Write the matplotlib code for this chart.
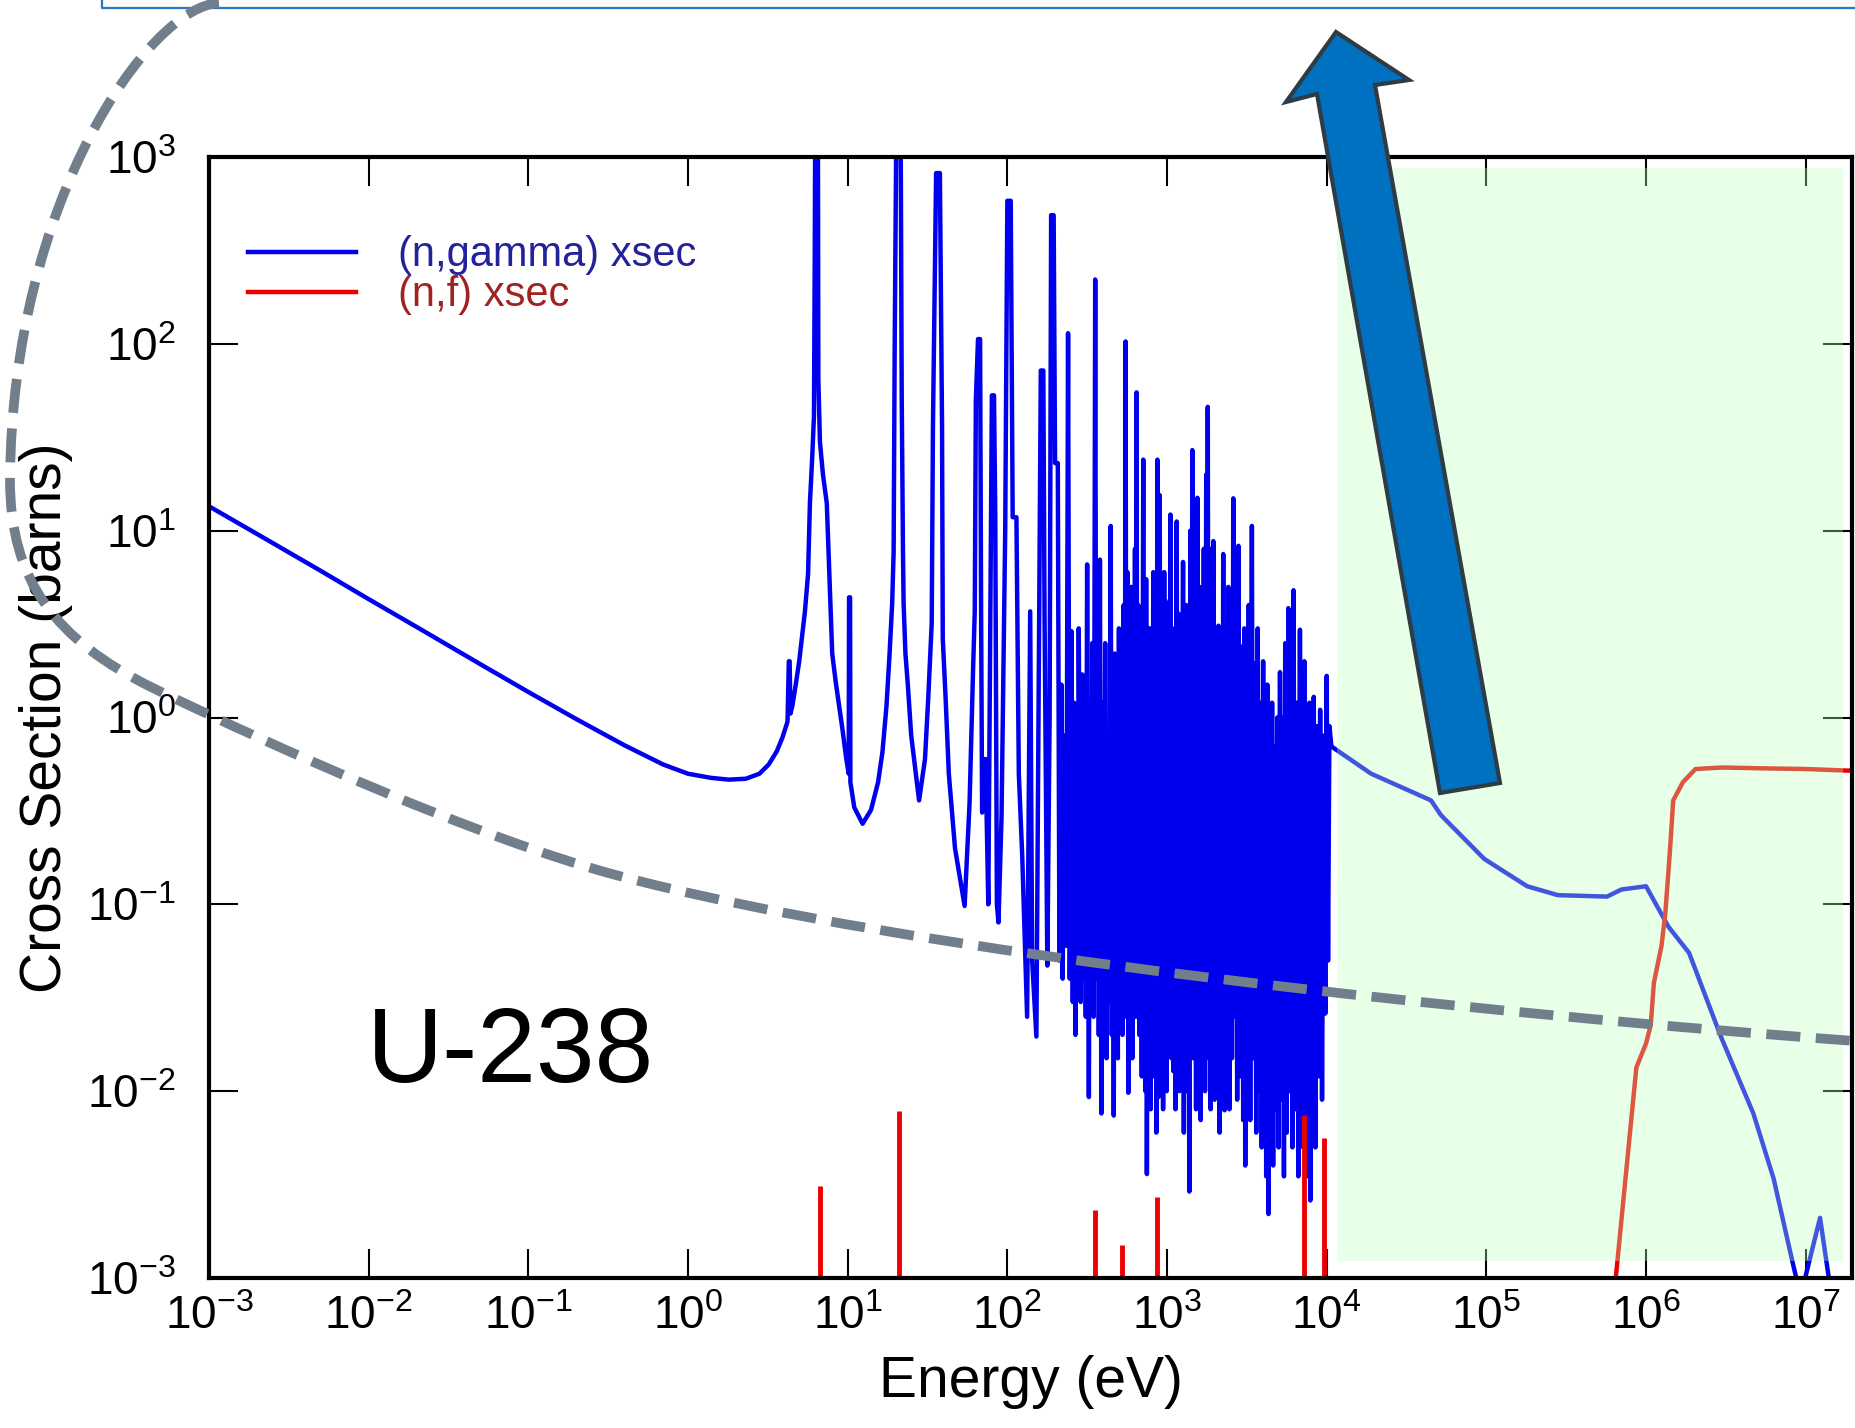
import numpy as np
import matplotlib
matplotlib.use('Agg')
import matplotlib.pyplot as plt
from matplotlib.patches import Polygon, PathPatch, Rectangle
from matplotlib.path import Path
from matplotlib.lines import Line2D

plt.rcParams['font.family'] = ['Liberation Sans', 'DejaVu Sans']
plt.rcParams['mathtext.default'] = 'regular'
plt.rcParams['axes.unicode_minus'] = False

W, H = 1855, 1428

# (n,gamma): thermal part and first resolved resonances, eV / barns
e_low = [1e-3, 2e-3, 5e-3, 1e-2, 2e-2, 5e-2, 0.1, 0.2, 0.4, 0.7, 1.0, 1.4, 1.8, 2.3, 2.8,
         3.2, 3.6, 3.9, 4.2, 4.28, 4.33, 4.38, 4.5, 4.73, 4.97, 5.2, 5.4, 5.65, 5.8, 6.0,
         6.15, 6.22, 6.28, 6.5, 6.55, 6.7, 7.0, 7.4, 7.7, 8.0, 8.4, 8.85, 9.3, 9.8, 10.15,
         10.2, 10.35, 10.4, 11.0, 12.4, 14.0, 15.5, 16.5, 17.5, 18.3, 19.0, 19.4, 19.7, 20.3,
         21.4, 21.8, 22.2, 22.4, 23.0, 23.8, 25.0, 28.0, 30.5, 32.0, 33.6, 34.2, 35.8, 37.8,
         39.0, 39.4, 41.0, 43.0, 47.0, 54.0, 58.0, 61.0, 62.5, 63.5, 65.5, 67.5, 68.5, 69.5,
         73.0, 76.0, 79.0, 80.0, 82.5, 84.0, 86.0, 88.0, 92.0, 97.0, 100.0, 105.0, 108.0,
         114.0, 118.0, 124.0, 133.0, 139.0, 143.0, 152.0, 158.0, 162.0, 168.0, 171.0, 178.0,
         184.0, 188.0, 195.0, 199.0, 207.0, 212.0]
xs_low = [13.5, 9.6, 6.1, 4.3, 3.05, 1.93, 1.37, 0.98, 0.71, 0.56, 0.50, 0.475, 0.465, 0.47, 0.50,
          0.56, 0.66, 0.78, 0.95, 2.0, 2.0, 1.05, 1.15, 1.5, 2.0, 2.8, 3.7, 5.9, 14, 25,
          41, 300, 3000, 3000, 65, 30, 20, 14, 5.5, 2.2, 1.57, 1.15, 0.85, 0.6, 0.5,
          4.4, 4.4, 0.45, 0.33, 0.27, 0.32, 0.45, 0.65, 1.15, 2.2, 4.1, 7.7, 99, 3000,
          3000, 52, 7.7, 4.1, 2.2, 1.5, 0.8, 0.36, 0.6, 1.3, 3.2, 36, 820, 820,
          36, 2.65, 1.3, 0.5, 0.2, 0.098, 0.35, 1.8, 3.7, 50, 106, 106, 3.7, 0.31,
          0.6, 0.1, 12, 53, 53, 12.3, 0.1, 0.08, 0.3, 10.3, 583, 583, 11.8,
          11.8, 0.5, 0.18, 0.025, 3.7, 0.05, 0.0196, 2.7, 72, 72, 3.5, 0.047,
          1.0, 488, 488, 23, 23, 0.05]

# dense resonance region: peak tops and valley bottoms
peak_e = [218, 228, 240, 252, 262, 272, 280, 295, 305, 316, 330, 340, 355, 368, 380, 395, 410,
          425, 444, 458, 470, 485, 500, 518, 535, 550, 565, 580, 598, 615, 630, 645, 660, 680,
          710, 725, 740, 760, 780, 800, 820, 845, 870, 900, 930, 960, 980, 1010, 1050, 1080,
          1110, 1150, 1180, 1210, 1260, 1290, 1320, 1350, 1400, 1440, 1490, 1550, 1600, 1650,
          1700, 1760, 1800, 1850, 1900, 1950, 2020, 2100, 2170, 2250, 2330, 2420, 2500, 2600,
          2700, 2800, 2950, 3050, 3150, 3250, 3400, 3550, 3700, 3850, 4000, 4120, 4250, 4400,
          4550, 4700, 4900, 5100, 5300, 5500, 5750, 6000, 6200, 6500, 6800, 7000, 7250, 7500,
          7800, 8000, 8300, 8700, 9100, 9600, 10000, 10400]
peak_xs = [1.5, 0.8, 114, 2.9, 1.2, 0.6, 3.0, 1.7, 0.8, 6.6, 1.0, 2.5, 221, 3.0, 7.0, 1.2, 2.5,
           0.8, 10.6, 1.5, 2.2, 0.9, 3.0, 1.5, 4.0, 103, 6.0, 2.0, 5.0, 1.5, 8.0, 55, 4.0, 2.5,
           24, 3.0, 5.5, 1.2, 3.0, 1.5, 6.0, 2.0, 24, 15.5, 2.5, 6.0, 4.2, 1.8, 12.2, 3.0,
           2.0, 11.2, 3.6, 1.8, 6.8, 2.5, 4.0, 1.5, 10, 27, 4.0, 15, 5.0, 2.5,
           8.0, 20, 46, 8.0, 4.0, 8.8, 3.0, 3.1, 2.0, 7.5, 3.0, 5.0, 2.5, 14.9,
           4.0, 8.3, 2.4, 3.0, 1.5, 4.0, 10.6, 1.95, 3.0, 1.2, 2.0, 0.8, 1.5, 0.9,
           1.2, 0.7, 1.0, 1.75, 1.0, 2.5, 3.85, 1.5, 4.8, 1.2, 2.95, 1.0, 2.0, 0.8,
           1.2, 0.7, 1.29, 0.9, 1.1, 0.8, 1.67, 0.9]
valley_e = [222, 234, 246, 257, 267, 276, 288, 300, 310, 324, 335, 347, 362, 374, 388, 402, 418,
            434, 451, 464, 478, 492, 509, 526, 542, 558, 572, 589, 606, 622, 637, 652, 670, 695,
            717, 732, 748, 770, 790, 810, 832, 857, 885, 915, 945, 970, 995, 1030, 1065, 1095,
            1130, 1165, 1195, 1235, 1275, 1305, 1335, 1380, 1420, 1465, 1520, 1575, 1625, 1675,
            1730, 1780, 1825, 1875, 1925, 1985, 2060, 2135, 2210, 2290, 2375, 2460, 2550, 2650,
            2750, 2870, 3000, 3090, 3200, 3320, 3470, 3620, 3770, 3920, 4060, 4180, 4320, 4480,
            4620, 4800, 5000, 5200, 5400, 5620, 5880, 6100, 6350, 6650, 6900, 7120, 7380, 7650,
            7900, 8150, 8500, 8900, 9350, 9800, 10200]
valley_xs = [0.04, 0.06, 0.04, 0.03, 0.02, 0.05, 0.03, 0.04, 0.025, 0.0093, 0.03, 0.025, 0.04,
             0.02, 0.0076, 0.025, 0.015, 0.03, 0.02, 0.0074, 0.025, 0.015, 0.03, 0.02, 0.025,
             0.035, 0.0098, 0.025, 0.015, 0.03, 0.025, 0.04, 0.02, 0.012, 0.025, 0.01, 0.0036,
             0.02, 0.008, 0.025, 0.012, 0.006, 0.0093, 0.025, 0.008, 0.02, 0.01, 0.025, 0.015,
             0.0128, 0.008, 0.025, 0.01, 0.02, 0.006, 0.015, 0.01, 0.0029, 0.025, 0.015, 0.008,
             0.0095, 0.007, 0.015, 0.01, 0.025, 0.015, 0.008, 0.02, 0.009, 0.015, 0.006, 0.012,
             0.0079, 0.02, 0.008, 0.015, 0.025, 0.009, 0.012, 0.007, 0.004, 0.012, 0.007, 0.015,
             0.006, 0.01, 0.005, 0.009, 0.0035, 0.0022, 0.006, 0.004, 0.008, 0.005, 0.009,
             0.0035, 0.006, 0.01, 0.005, 0.008, 0.0035, 0.007, 0.005, 0.009, 0.0035, 0.0026,
             0.006, 0.005, 0.012, 0.009, 0.026, 0.05]

# smooth fast region
e_fast = [10700, 19000, 30000, 45000, 52000, 97000, 1.8e5, 2.8e5, 5.7e5, 7e5, 1.0e6, 1.38e6,
          1.86e6, 2.95e6, 4.7e6, 6.3e6, 8.3e6, 9.3e6, 1.23e7, 1.45e7]
xs_fast = [0.70, 0.50, 0.42, 0.36, 0.30, 0.175, 0.125, 0.112, 0.11, 0.12, 0.125, 0.076,
           0.055, 0.0195, 0.0076, 0.0034, 0.0012, 0.0008, 0.0021, 0.0008]

# (n,f)
fis_res_e = [6.7, 20.9, 355, 525, 870, 7250, 9600]
fis_res_xs = [0.0031, 0.0078, 0.0023, 0.0015, 0.0027, 0.0075, 0.0056]
e_fis_fast = [6.3e5, 8.7e5, 1.0e6, 1.07e6, 1.12e6, 1.25e6, 1.32e6, 1.41e6, 1.48e6, 1.7e6,
              2.04e6, 3.0e6, 5.0e6, 1.0e7, 1.8e7, 2.0e7]
xs_fis_fast = [0.0008, 0.0134, 0.018, 0.0225, 0.038, 0.06, 0.089, 0.19, 0.36, 0.45,
               0.53, 0.54, 0.535, 0.53, 0.52, 0.52]


def px(x, y):
    return (x / W, 1 - y / H)


e_dense = np.array(peak_e + valley_e, dtype=float)
xs_dense = np.array(peak_xs + valley_xs, dtype=float)
order = np.argsort(e_dense)
e_cap = np.concatenate([e_low, e_dense[order], e_fast])
xs_cap = np.concatenate([xs_low, xs_dense[order], xs_fast])

fig = plt.figure(figsize=(W / 100, H / 100), dpi=100)
ax = fig.add_axes([209 / W, 1 - 1278 / H, (1852 - 209) / W, (1278 - 157) / H])

ax.plot(e_cap, xs_cap, color='#0000ee', lw=3.2, label='(n,gamma) xsec')
ax.set_xscale('log')
ax.set_yscale('log')
ax.set_xlim(1e-3, 10 ** 7.29)
ax.set_ylim(1e-3, 1e3)
ax.vlines(fis_res_e, ax.get_ylim()[0], fis_res_xs, color='#ee0000', lw=3.5)
ax.plot(e_fis_fast, xs_fis_fast, color='#ee0000', lw=3.2, label='(n,f) xsec')

ax.set_xticks(10.0 ** np.arange(-3, 8))
ax.set_yticks(10.0 ** np.arange(-3, 4))
ax.minorticks_off()
ax.tick_params(which='major', direction='in', length=21, width=1.5, top=True, right=True,
               labelsize=33)
ax.tick_params(axis='y', pad=24)
ax.tick_params(axis='x', pad=12)
for s in ax.spines.values():
    s.set_linewidth(3)

ax.set_xlabel('Energy (eV)', fontsize=41, labelpad=12)
ax.set_ylabel('Cross Section (barns)', fontsize=41, labelpad=10)

ax.legend(loc='upper left', bbox_to_anchor=(0.0237, 0.93), frameon=False, fontsize=30,
          handlelength=2.6, handletextpad=1.0, labelspacing=0.0, borderpad=0,
          borderaxespad=0, labelcolor=['#22229a', '#a02222'])

# green shading over the fast region
x0, y0 = px(1337, 1261)
fig.add_artist(Rectangle((x0, y0), (1843 - 1337) / W, (1261 - 168) / H,
                         transform=fig.transFigure, facecolor='#bcffbe', alpha=0.34,
                         edgecolor='none', zorder=3))

# big arrow
arrow_pts = [(1440, 793), (1500, 783), (1375, 85), (1409, 80), (1336, 32), (1286, 102),
             (1317, 94)]
fig.add_artist(Polygon([px(*p) for p in arrow_pts], closed=True, transform=fig.transFigure,
                       facecolor='#0070c0', edgecolor='#2f3b45', lw=3, joinstyle='miter',
                       zorder=6))

# dashed curve
curve_pts = [(219, 3), (150, 6), (12, 200), (10, 480), (10, 580), (55, 640), (153, 688),
             (280, 750), (480, 838), (612, 874), (912, 955), (1500, 1015), (1855, 1041)]
codes = [Path.MOVETO] + [Path.CURVE4] * 12
fig.add_artist(PathPatch(Path([px(*p) for p in curve_pts], codes), transform=fig.transFigure,
                         fill=False, edgecolor='#717f8d', lw=7, linestyle=(0, (3.5, 1.6)),
                         capstyle='butt', zorder=7))

# thin blue frame line at the top
fig.add_artist(Line2D([102 / W, 102 / W, 1], [1, 1 - 8 / H, 1 - 8 / H],
                      transform=fig.transFigure, color='#2878c8', lw=1.6, zorder=6))

fig.text(367 / W, 1 - 1082 / H, 'U-238', fontsize=76, ha='left', va='baseline')

fig.savefig('out.png', dpi=100)
